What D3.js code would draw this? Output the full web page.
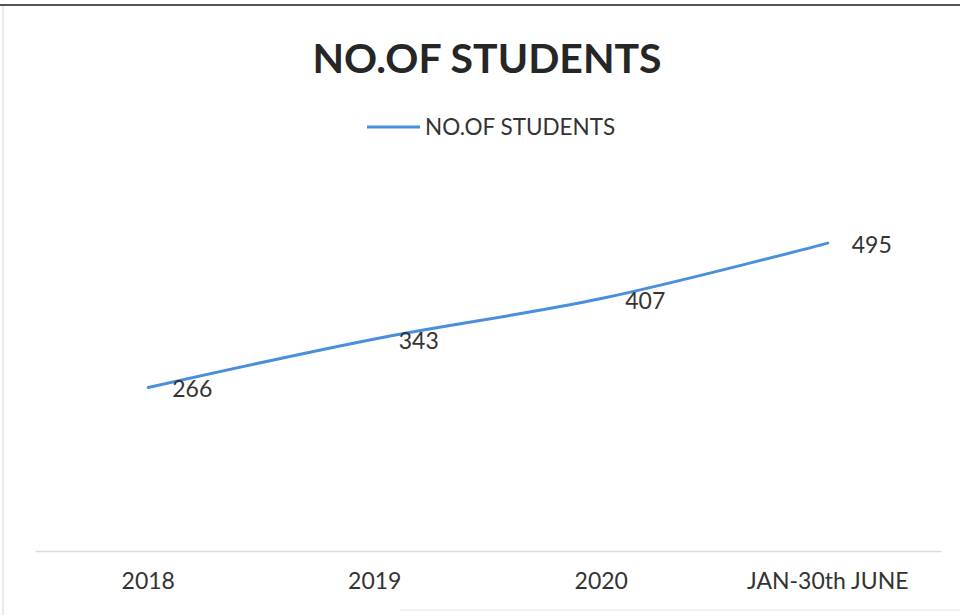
<!DOCTYPE html>
<html>
<head>
<meta charset="utf-8">
<script src="https://cdn.jsdelivr.net/npm/d3@7/dist/d3.min.js"></script>
<style>
html,body{margin:0;padding:0;background:#fff;}
svg{display:block;}
text{font-family:Lato,"Open Sans",sans-serif;}
</style>
</head>
<body>
<svg id="chart" width="960" height="615"></svg>
<script>
const title = "NO.OF STUDENTS";
const seriesName = "NO.OF STUDENTS";
const categories = ["2018", "2019", "2020", "JAN-30th JUNE"];
const students = [266, 343, 407, 495];
const yDomain = [0, 600];

const svg = d3.select("#chart");
const W = 960, H = 615;

// frame of the scanned chart
svg.append("line").attr("x1", 0).attr("x2", W).attr("y1", 5).attr("y2", 5)
  .attr("stroke", "#555").attr("stroke-width", 2);
svg.append("line").attr("x1", 3).attr("x2", 3).attr("y1", 6).attr("y2", H)
  .attr("stroke", "#e2e2ea").attr("stroke-width", 1.5);
svg.append("line").attr("x1", 400).attr("x2", W).attr("y1", 610).attr("y2", 610)
  .attr("stroke", "#ececec").attr("stroke-width", 1.5);

const x = d3.scaleBand().domain(categories).range([35, 941]);
const y = d3.scaleLinear().domain(yDomain).range([555, 177]);

// category axis
const xAxis = d3.axisBottom(x).tickSize(0).tickPadding(22);
const gx = svg.append("g").attr("transform", `translate(0,${y(0) - 4})`).call(xAxis);
gx.select(".domain").attr("stroke", "#dcdcdc").attr("stroke-width", 1.5);
gx.selectAll("text").attr("font-size", 23).attr("fill", "#333")
  .attr("font-family", "Lato, sans-serif");

// title
svg.append("text").attr("x", 487).attr("y", 73).attr("text-anchor", "middle")
  .attr("font-size", 41).attr("font-weight", "bold").attr("fill", "#262626")
  .text(title);

// legend
svg.append("line").attr("x1", 367).attr("x2", 420).attr("y1", 127).attr("y2", 127)
  .attr("stroke", "#4a8fdc").attr("stroke-width", 3);
svg.append("text").attr("x", 425).attr("y", 135).attr("font-size", 22.5)
  .attr("fill", "#333").text(seriesName);

// line
const cx = d => x(d) + x.bandwidth() / 2;
const line = d3.line()
  .x((d, i) => cx(categories[i]))
  .y(d => y(d))
  .curve(d3.curveCatmullRom.alpha(0.5));
svg.append("path").datum(students).attr("d", line)
  .attr("fill", "none").attr("stroke", "#4a8fdc").attr("stroke-width", 3)
  .attr("stroke-linecap", "round");

// data labels
svg.selectAll(".lbl").data(students).enter().append("text")
  .attr("class", "lbl")
  .attr("x", (d, i) => cx(categories[i]) + 24)
  .attr("y", d => y(d) + 10)
  .attr("font-size", 23).attr("fill", "#333")
  .text(d => d);
</script>
</body>
</html>
